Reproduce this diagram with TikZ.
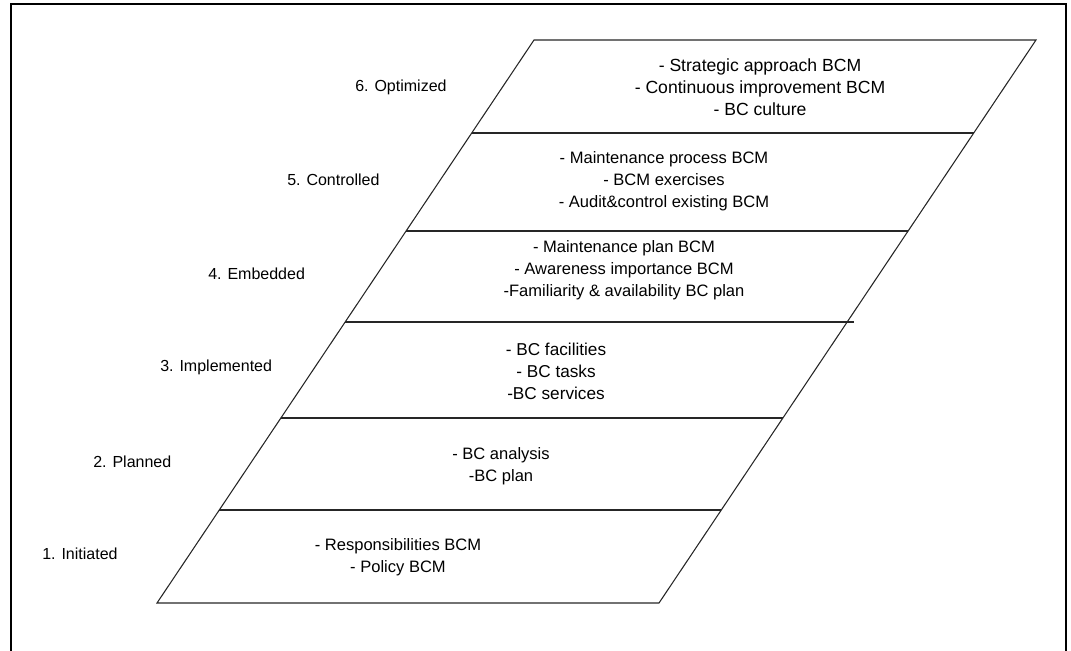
\documentclass[tikz,border=0pt]{standalone}
\usepackage{fontspec}
\setmainfont{Liberation Sans}
\begin{document}
\begin{tikzpicture}[x=0.75pt,y=-0.75pt,
  frame/.style={line width=1.5pt,black},
  edge/.style={line width=0.8pt,black!85},
  txt/.style={align=center,inner sep=0pt,font=\fontsize{12.4}{16.5}\selectfont},
  bigtxt/.style={txt,font=\fontsize{13.2}{16.5}\selectfont},
  midtxt/.style={txt,font=\fontsize{12.9}{16.5}\selectfont},
  lvl/.style={anchor=west,inner sep=0pt,font=\fontsize{12}{14}\selectfont}]
\useasboundingbox (0,0) rectangle (1071,650);
% outer frame (bottom edge outside the picture)
\draw[frame] (11,660) -- (11,4) -- (1066,4) -- (1066,660);
% parallelogram corners
\coordinate (TL) at (534,40);
\coordinate (TR) at (1036,40);
\coordinate (BL) at (157,603);
\coordinate (BR) at (659,603);
\draw[edge] (TL) -- (TR) -- (BR) -- (BL) -- cycle;
% separators
\coordinate (l5) at (471.7,133); \coordinate (r5) at (973.7,133);
\coordinate (l4) at (406.1,231); \coordinate (r4) at (908.1,231);
\coordinate (l3) at (345.2,322); \coordinate (r3) at (854,322);
\coordinate (l2) at (280.9,418); \coordinate (r2) at (782.9,418);
\coordinate (l1) at (219.3,510); \coordinate (r1) at (721.3,510);
\draw[edge] (l5) -- (r5);
\draw[edge] (l4) -- (r4);
\draw[edge] (l3) -- (r3);
\draw[edge] (l2) -- (r2);
\draw[edge] (l1) -- (r1);
% contents
\node[bigtxt] (c6) at (760,87) {- Strategic approach BCM\\- Continuous improvement BCM\\- BC culture};
\node[txt] (c5) at (664,181) {- Maintenance process BCM\\- BCM exercises\\- Audit\&control existing BCM};
\node[txt] (c4) at (624,270) {- Maintenance plan BCM\\- Awareness importance BCM\\-Familiarity \& availability BC plan};
\node[midtxt] (c3) at (556,371) {- BC facilities\\- BC tasks\\-BC services};
\node[txt] (c2) at (501,466) {- BC analysis\\-BC plan};
\node[txt] (c1) at (398,557) {- Responsibilities BCM\\- Policy BCM};
% level labels
\node[lvl] (n6) at (355,87) {6. Optimized};
\node[lvl] (n5) at (287,180) {5. Controlled};
\node[lvl] (n4) at (208,274) {4. Embedded};
\node[lvl] (n3) at (160,367) {3. Implemented};
\node[lvl] (n2) at (93,462) {2. Planned};
\node[lvl] (n1) at (42,554) {1. Initiated};
\end{tikzpicture}
\end{document}
